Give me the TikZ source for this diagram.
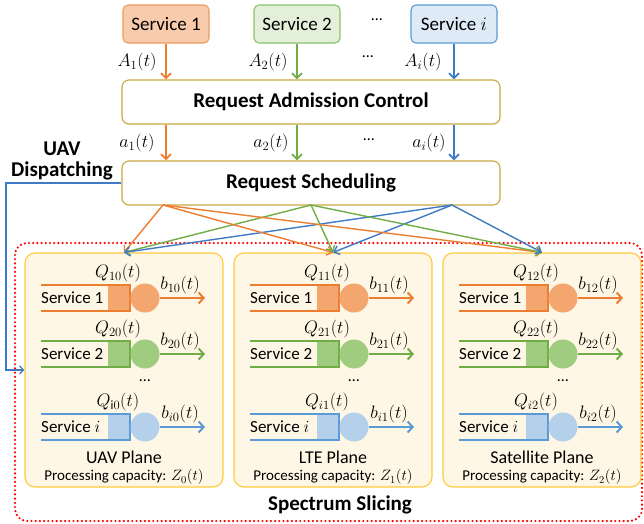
\RequirePackage{fix-cm}
\documentclass[tikz,border=0pt]{standalone}
\usepackage{fontspec}
\setmainfont{Carlito}
\usetikzlibrary{arrows.meta}
\definecolor{orL}{HTML}{ED7D31}
\definecolor{orF}{HTML}{F3A66E}
\definecolor{orBox}{HTML}{F8CBAD}
\definecolor{orBd}{HTML}{EE9A5E}
\definecolor{grL}{HTML}{70AD47}
\definecolor{grF}{HTML}{A0CC80}
\definecolor{grBox}{HTML}{E2F0D9}
\definecolor{grBd}{HTML}{8CC168}
\definecolor{blL}{HTML}{5B9BD5}
\definecolor{blF}{HTML}{B5D0EA}
\definecolor{blBox}{HTML}{DEEBF7}
\definecolor{blA}{HTML}{3F7AC6}
\definecolor{goldB}{HTML}{C9A83F}
\definecolor{plF}{HTML}{FFF7E6}
\definecolor{plB}{HTML}{FFCA3A}
\definecolor{dotR}{HTML}{FF0000}
\newcommand{\qrow}[8]{%
  \fill[#4] (#1+83,#2-13) rectangle (#1+105,#2+13);
  \draw[qline,#3] (#1+16,#2-13) -- (#1+105,#2-13) -- (#1+105,#2+13) -- (#1+16,#2+13);
  \node[qtxt] (#8t) at (#1+16,#2) {#5};
  \node[circle, fill=#4, minimum size=29pt, inner sep=0pt] (#8c) at (#1+120,#2) {};
  \coordinate (#8e) at (#1+180,#2);
  \draw[barrow,#3] (#8c.east) -- (#8e);
  \node[mlab] (#8q) at (#1+93,#2-25) {#6};
  \node[mlab] (#8b) at (#1+155,#2-13) {#7};
}
\begin{document}
\begin{tikzpicture}[x=1pt,y=-1pt,
  svc/.style={rounded corners=5pt, minimum width=86pt, minimum height=38pt, line width=1.1pt, inner sep=0pt, font=\fontsize{19}{20}\selectfont},
  ctrl/.style={draw=goldB, line width=1.1pt, rounded corners=7pt, fill=white, minimum width=378pt, minimum height=44pt, inner sep=0pt, font=\fontsize{21}{21}\selectfont\bfseries},
  bold/.style={font=\fontsize{21}{21}\selectfont\bfseries, inner sep=0pt, align=center},
  plane/.style={draw=plB, fill=plF, line width=1.1pt, rounded corners=10pt, minimum width=198pt, minimum height=234pt, inner sep=0pt},
  qline/.style={line width=2.6pt},
  qtxt/.style={anchor=west, inner sep=0pt, font=\fontsize{17}{18}\selectfont},
  mlab/.style={inner sep=0pt, font=\fontsize{18}{19}\selectfont},
  barrow/.style={line width=2pt, -{Straight Barb[length=5pt,width=11pt]}},
  varrow/.style={line width=1.8pt, -{Straight Barb[length=5pt,width=10pt]}},
  xarrow/.style={line width=1.4pt, -{Straight Barb[length=5pt,width=9pt]}},
  pname/.style={inner sep=0pt, font=\fontsize{18}{19}\selectfont},
  pcap/.style={inner sep=0pt, font=\fontsize{15}{16}\selectfont},
  dots/.style={inner sep=0pt, font=\fontsize{16}{17}\selectfont}]
\useasboundingbox (0,0) rectangle (644,523);

% top services
\node[svc, fill=orBox, draw=orBd] (s1) at (166,24) {Service 1};
\node[svc, fill=grBox, draw=grBd] (s2) at (297,24) {Service 2};
\node[svc, fill=blBox, draw=blL] (si) at (454,24) {Service $i$};
\node[dots] (d0) at (377,20) {…};

% control boxes
\node[ctrl] (rac) at (311,102) {Request Admission Control};
\node[ctrl] (rs) at (311,183) {Request Scheduling};

% arrivals
\draw[varrow, orL] (s1.south) -- (s1.south |- rac.north);
\draw[varrow, grL] (s2.south) -- (s2.south |- rac.north);
\draw[varrow, blA] (si.south) -- (si.south |- rac.north);
\node[mlab] (A1) at (137,62) {$A_1(t)$};
\node[mlab] (A2) at (268,62) {$A_2(t)$};
\node[dots] (d1) at (368,57) {…};
\node[mlab] (Ai) at (423,62) {$A_i(t)$};

\draw[varrow, orL] (s1.south |- rac.south) -- (s1.south |- rs.north);
\draw[varrow, grL] (s2.south |- rac.south) -- (s2.south |- rs.north);
\draw[varrow, blA] (si.south |- rac.south) -- (si.south |- rs.north);
\node[mlab] (a1) at (137,143) {$a_1(t)$};
\node[mlab] (a2) at (271,143) {$a_2(t)$};
\node[dots] (d2) at (369,140) {…};
\node[mlab] (ai) at (429,143) {$a_i(t)$};

% UAV dispatching label
\node[bold] (uavd) at (62,161) {UAV\\Dispatching};

% spectrum slicing region
\draw[dotR, line width=2.4pt, dash pattern=on 0pt off 4.2pt, line cap=round, rounded corners=12pt] (15,243) rectangle (642,521);
\node[bold] (ss) at (340,505) {Spectrum Slicing};

% planes
\node[plane] (uav) at (124,370) {};
\node[plane] (lte) at (333,370) {};
\node[plane] (sat) at (542,370) {};

% dispatch line
\coordinate (dc) at (6,370);
\draw[blA, line width=1.3pt, -{Straight Barb[length=4pt,width=8pt]}] (rs.west) -| (dc) -- (dc -| uav.west);

% scheduling arrows
\coordinate (so) at (163,205);
\coordinate (sg) at (311,205);
\coordinate (sb) at (452,205);
\foreach \t in {uav,lte,sat}{
  \draw[xarrow, orL] (so) -- (\t.north);
  \draw[xarrow, grL] (sg) -- (\t.north);
  \draw[xarrow, blA] (sb) -- (\t.north);
}

% queues: UAV plane (x0=25)
\qrow{25}{298}{orL}{orF}{Service 1}{$Q_{10}(t)$}{$b_{10}(t)$}{ua}
\qrow{25}{354}{grL}{grF}{Service 2}{$Q_{20}(t)$}{$b_{20}(t)$}{ub}
\qrow{25}{427}{blL}{blF}{Service $i$}{$Q_{\mathrm{i}0}(t)$}{$b_{i0}(t)$}{uc}
\node[dots] (ud) at (145,381) {…};
\node[pname] (un) at (124,457) {UAV Plane};
\node[pcap] (ucap) at (124,477) {Processing capacity: $Z_0(t)$};

% LTE plane (x0=234)
\qrow{234}{298}{orL}{orF}{Service 1}{$Q_{11}(t)$}{$b_{11}(t)$}{la}
\qrow{234}{354}{grL}{grF}{Service 2}{$Q_{21}(t)$}{$b_{21}(t)$}{lb}
\qrow{234}{427}{blL}{blF}{Service $i$}{$Q_{i1}(t)$}{$b_{i1}(t)$}{lc}
\node[dots] (ld) at (354,381) {…};
\node[pname] (ln) at (333,457) {LTE Plane};
\node[pcap] (lcap) at (333,477) {Processing capacity: $Z_1(t)$};

% Satellite plane (x0=443)
\qrow{443}{298}{orL}{orF}{Service 1}{$Q_{12}(t)$}{$b_{12}(t)$}{sa}
\qrow{443}{354}{grL}{grF}{Service 2}{$Q_{22}(t)$}{$b_{22}(t)$}{sb}
\qrow{443}{427}{blL}{blF}{Service $i$}{$Q_{i2}(t)$}{$b_{i2}(t)$}{sc}
\node[dots] (sd) at (563,381) {…};
\node[pname] (sn) at (542,457) {Satellite Plane};
\node[pcap] (scap) at (542,477) {Processing capacity: $Z_2(t)$};
\end{tikzpicture}
\end{document}
